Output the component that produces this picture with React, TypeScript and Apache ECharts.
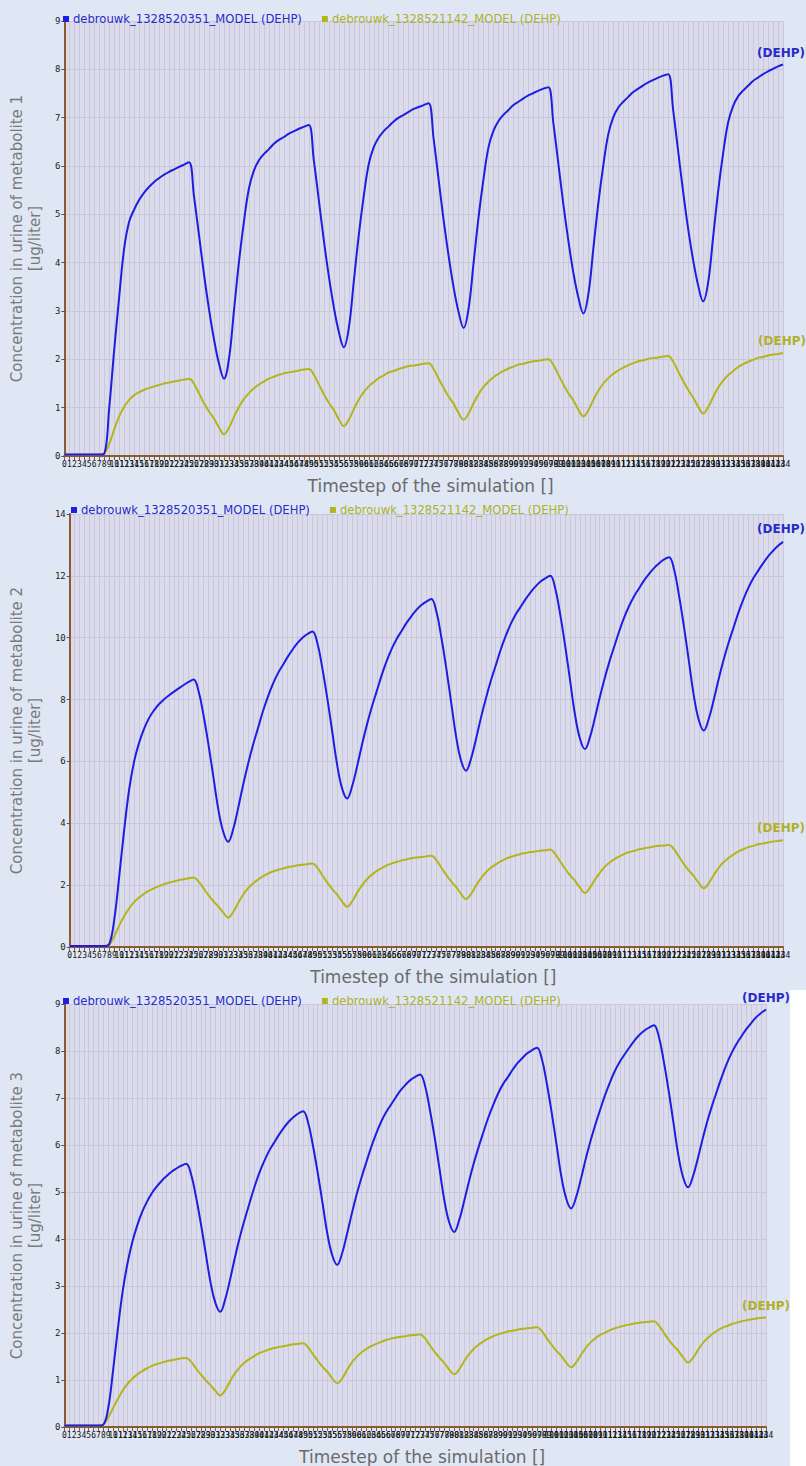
import React, { useEffect, useRef } from "react";
import * as echarts from "echarts";

const categories: string[] = Array.from({ length: 145 }, (_, i) => String(i));

const seriesNames = ["debrouwk_1328520351_MODEL (DEHP)", "debrouwk_1328521142_MODEL (DEHP)"];

// Panel 1 – metabolite 1
const blue1 = [
  0.03, 0.03, 0.03, 0.03, 0.03, 0.03, 0.03, 0.03,
  0.05, 1.0, 2.2, 3.3, 4.3, 4.85, 5.1, 5.3, 5.45, 5.57, 5.67, 5.75, 5.82, 5.88, 5.93, 5.98, 6.03, 6.08,
  5.36, 4.56, 3.75, 3.03, 2.41, 1.91, 1.6,
  2.02, 3.02, 4.02, 4.86, 5.54, 5.91, 6.12, 6.25, 6.35, 6.46, 6.54, 6.6, 6.67, 6.72, 6.77, 6.81, 6.85,
  6.11, 5.29, 4.46, 3.72, 3.08, 2.57, 2.25,
  2.65, 3.61, 4.57, 5.38, 6.04, 6.39, 6.59, 6.72, 6.82, 6.92, 7.0, 7.06, 7.12, 7.18, 7.22, 7.26, 7.3,
  6.56, 5.72, 4.88, 4.14, 3.49, 2.98, 2.65,
  3.05, 3.99, 4.94, 5.74, 6.39, 6.73, 6.93, 7.06, 7.16, 7.26, 7.33, 7.4, 7.46, 7.51, 7.56, 7.6, 7.63,
  6.88, 6.04, 5.2, 4.45, 3.79, 3.28, 2.95,
  3.35, 4.29, 5.23, 6.02, 6.66, 7.01, 7.21, 7.33, 7.43, 7.53, 7.6, 7.67, 7.73, 7.78, 7.83, 7.87, 7.9,
  7.15, 6.3, 5.46, 4.7, 4.05, 3.53, 3.2,
  3.59, 4.53, 5.47, 6.26, 6.9, 7.24, 7.44, 7.56, 7.66, 7.76, 7.83, 7.9, 7.96, 8.01, 8.06, 8.1,
];
const yellow1 = [
  0.03, 0.03, 0.03, 0.03, 0.03, 0.03, 0.03, 0.03,
  0.06, 0.25, 0.55, 0.82, 1.02, 1.16, 1.26, 1.32, 1.37, 1.41, 1.44, 1.47, 1.5, 1.52, 1.54, 1.56, 1.58, 1.6,
  1.49, 1.29, 1.09, 0.92, 0.77, 0.59, 0.45,
  0.59, 0.81, 1.02, 1.18, 1.3, 1.4, 1.48, 1.54, 1.6, 1.64, 1.68, 1.71, 1.73, 1.75, 1.77, 1.79, 1.8,
  1.68, 1.48, 1.28, 1.1, 0.95, 0.76, 0.62,
  0.75, 0.97, 1.17, 1.32, 1.44, 1.53, 1.61, 1.67, 1.73, 1.76, 1.8, 1.83, 1.86, 1.87, 1.89, 1.91, 1.92,
  1.8, 1.6, 1.41, 1.23, 1.08, 0.89, 0.75,
  0.88, 1.09, 1.28, 1.43, 1.54, 1.63, 1.7, 1.76, 1.81, 1.85, 1.89, 1.91, 1.94, 1.96, 1.97, 1.99, 2.0,
  1.88, 1.68, 1.48, 1.3, 1.15, 0.96, 0.82,
  0.95, 1.16, 1.35, 1.5, 1.61, 1.7, 1.77, 1.83, 1.88, 1.92, 1.96, 1.98, 2.01, 2.03, 2.04, 2.06, 2.07,
  1.95, 1.75, 1.55, 1.37, 1.21, 1.02, 0.88,
  1.01, 1.22, 1.41, 1.56, 1.67, 1.76, 1.84, 1.9, 1.95, 1.99, 2.03, 2.05, 2.08, 2.1, 2.11, 2.13,
];

// Panel 2 – metabolite 2
const blue2 = [
  0.03, 0.03, 0.03, 0.03, 0.03, 0.03, 0.03, 0.03,
  0.1, 0.9, 2.3, 3.8, 5.1, 6.0, 6.6, 7.05, 7.4, 7.65, 7.85, 8.0, 8.13, 8.25, 8.36, 8.47, 8.57, 8.65,
  8.28, 7.5, 6.55, 5.5, 4.45, 3.72, 3.4,
  3.81, 4.49, 5.24, 5.92, 6.53, 7.07, 7.62, 8.09, 8.5, 8.84, 9.11, 9.38, 9.62, 9.83, 10.0, 10.12, 10.2,
  9.82, 9.01, 8.04, 6.96, 5.88, 5.12, 4.8,
  5.19, 5.83, 6.54, 7.19, 7.77, 8.28, 8.8, 9.25, 9.64, 9.96, 10.22, 10.48, 10.7, 10.9, 11.06, 11.17, 11.25,
  10.86, 10.03, 9.03, 7.92, 6.81, 6.03, 5.7,
  6.08, 6.71, 7.4, 8.03, 8.6, 9.1, 9.61, 10.05, 10.43, 10.74, 10.99, 11.24, 11.46, 11.65, 11.81, 11.92, 12.0,
  11.61, 10.77, 9.76, 8.64, 7.52, 6.74, 6.4,
  6.77, 7.39, 8.07, 8.69, 9.25, 9.75, 10.24, 10.68, 11.05, 11.36, 11.61, 11.86, 12.07, 12.26, 12.41, 12.53, 12.6,
  12.21, 11.37, 10.36, 9.24, 8.12, 7.34, 7.0,
  7.37, 7.98, 8.66, 9.28, 9.83, 10.32, 10.81, 11.24, 11.61, 11.92, 12.17, 12.41, 12.63, 12.81, 12.97, 13.1,
];
const yellow2 = [
  0.03, 0.03, 0.03, 0.03, 0.03, 0.03, 0.03, 0.03,
  0.08, 0.35, 0.7, 1.0, 1.25, 1.45, 1.6, 1.72, 1.82, 1.9, 1.97, 2.03, 2.08, 2.12, 2.16, 2.19, 2.22, 2.25,
  2.12, 1.9, 1.68, 1.48, 1.31, 1.11, 0.95,
  1.13, 1.42, 1.69, 1.9, 2.05, 2.18, 2.28, 2.37, 2.44, 2.49, 2.54, 2.58, 2.61, 2.64, 2.66, 2.68, 2.7,
  2.56, 2.32, 2.08, 1.87, 1.69, 1.47, 1.3,
  1.47, 1.75, 1.99, 2.19, 2.34, 2.46, 2.55, 2.64, 2.7, 2.75, 2.8, 2.83, 2.87, 2.89, 2.91, 2.93, 2.95,
  2.81, 2.57, 2.33, 2.12, 1.94, 1.72, 1.55,
  1.71, 1.98, 2.22, 2.41, 2.56, 2.67, 2.77, 2.85, 2.91, 2.96, 3.01, 3.04, 3.07, 3.09, 3.11, 3.13, 3.15,
  3.01, 2.77, 2.53, 2.32, 2.14, 1.92, 1.75,
  1.91, 2.17, 2.4, 2.59, 2.73, 2.84, 2.93, 3.01, 3.07, 3.11, 3.16, 3.19, 3.22, 3.25, 3.27, 3.28, 3.3,
  3.16, 2.92, 2.68, 2.47, 2.29, 2.07, 1.9,
  2.06, 2.32, 2.56, 2.74, 2.88, 2.99, 3.09, 3.16, 3.23, 3.27, 3.32, 3.35, 3.38, 3.41, 3.43, 3.45,
];

// Panel 3 – metabolite 3
const blue3 = [
  0.03, 0.03, 0.03, 0.03, 0.03, 0.03, 0.03, 0.03,
  0.05, 0.4, 1.2, 2.1, 2.9, 3.5, 3.95, 4.3, 4.58, 4.8, 4.98, 5.12, 5.24, 5.34, 5.43, 5.5, 5.56, 5.6,
  5.38, 4.91, 4.34, 3.71, 3.08, 2.64, 2.45,
  2.71, 3.13, 3.6, 4.03, 4.41, 4.76, 5.1, 5.4, 5.65, 5.87, 6.04, 6.21, 6.36, 6.49, 6.59, 6.67, 6.72,
  6.49, 6.0, 5.41, 4.76, 4.1, 3.65, 3.45,
  3.69, 4.1, 4.54, 4.95, 5.31, 5.64, 5.96, 6.24, 6.49, 6.69, 6.85, 7.01, 7.16, 7.28, 7.38, 7.45, 7.5,
  7.27, 6.76, 6.16, 5.49, 4.82, 4.35, 4.15,
  4.39, 4.78, 5.21, 5.6, 5.95, 6.27, 6.58, 6.85, 7.09, 7.29, 7.44, 7.6, 7.74, 7.85, 7.95, 8.02, 8.07,
  7.83, 7.32, 6.7, 6.02, 5.33, 4.86, 4.65,
  4.88, 5.27, 5.7, 6.09, 6.44, 6.76, 7.07, 7.34, 7.58, 7.77, 7.93, 8.08, 8.22, 8.34, 8.43, 8.5, 8.55,
  8.31, 7.79, 7.17, 6.48, 5.79, 5.31, 5.1,
  5.33, 5.71, 6.13, 6.52, 6.86, 7.17, 7.47, 7.74, 7.97, 8.16, 8.32, 8.47, 8.6, 8.72, 8.81, 8.88,
];
const yellow3 = [
  0.03, 0.03, 0.03, 0.03, 0.03, 0.03, 0.03, 0.03,
  0.05, 0.2, 0.4, 0.6, 0.78, 0.92, 1.03, 1.12, 1.19, 1.25, 1.3, 1.34, 1.37, 1.4, 1.42, 1.44, 1.46, 1.47,
  1.39, 1.25, 1.12, 1.0, 0.89, 0.77, 0.67,
  0.78, 0.97, 1.14, 1.27, 1.37, 1.45, 1.51, 1.57, 1.61, 1.65, 1.68, 1.7, 1.72, 1.74, 1.76, 1.77, 1.78,
  1.7, 1.55, 1.41, 1.28, 1.17, 1.03, 0.93,
  1.03, 1.21, 1.37, 1.49, 1.59, 1.66, 1.72, 1.77, 1.81, 1.85, 1.88, 1.9, 1.92, 1.93, 1.95, 1.96, 1.97,
  1.89, 1.74, 1.6, 1.47, 1.36, 1.22, 1.12,
  1.22, 1.39, 1.54, 1.66, 1.75, 1.82, 1.88, 1.93, 1.97, 2.0, 2.03, 2.05, 2.07, 2.09, 2.1, 2.11, 2.12,
  2.04, 1.89, 1.75, 1.62, 1.51, 1.37, 1.27,
  1.37, 1.53, 1.68, 1.8, 1.89, 1.96, 2.01, 2.06, 2.1, 2.13, 2.16, 2.18, 2.2, 2.22, 2.23, 2.24, 2.25,
  2.16, 2.01, 1.86, 1.73, 1.62, 1.48, 1.37,
  1.47, 1.63, 1.78, 1.89, 1.98, 2.05, 2.11, 2.15, 2.19, 2.22, 2.25, 2.27, 2.29, 2.31, 2.32, 2.33,
];

const yMax = [9, 14, 9];
const yInterval = [1, 2, 1];
const yTitles = [
  "Concentration in urine of metabolite 1\n[ug/liter]",
  "Concentration in urine of metabolite 2\n[ug/liter]",
  "Concentration in urine of metabolite 3\n[ug/liter]",
];
const xTitle = "Timestep of the simulation []";
const endTag = "(DEHP)";

const BLUE = "#1e1ee0";
const OLIVE = "#b4b41e";
const BLUE_TXT = "#2a2ac8";
const OLIVE_TXT = "#b0b02a";
const BROWN = "#8a5a32";
const PAGE_BG = "#dfe7f5";
const PLOT_BG = "#dbdbeb";

const grids = [
  { left: 61, top: 21, width: 722, height: 435 },
  { left: 67, top: 514, width: 716, height: 433 },
  { left: 61, top: 1004, width: 705, height: 424 },
];
const legendPos = [
  { left: 58, top: 8 },
  { left: 66, top: 499 },
  { left: 58, top: 990 },
];
const tagPos = [
  { bx: 805, by: 53, yx: 806, yy: 341 },
  { bx: 805, by: 529, yx: 805, yy: 828 },
  { bx: 790, by: 998, yx: 790, yy: 1306 },
];

export default function App() {
  const ref = useRef<HTMLDivElement>(null);
  useEffect(() => {
    if (!ref.current) return;
    const chart = echarts.init(ref.current, undefined, { renderer: "svg" });
    const blues = [blue1, blue2, blue3];
    const yellows = [yellow1, yellow2, yellow3];
    const series: any[] = [];
    [0, 1, 2].forEach((i) => {
      series.push({
        name: seriesNames[0],
        type: "line",
        xAxisIndex: i,
        yAxisIndex: i,
        data: blues[i],
        smooth: 0.4,
        showSymbol: false,
        lineStyle: { color: BLUE, width: 2 },
        itemStyle: { color: BLUE },
        z: 3,
      });
      series.push({
        name: seriesNames[1],
        type: "line",
        xAxisIndex: i,
        yAxisIndex: i,
        data: yellows[i],
        smooth: 0.4,
        showSymbol: false,
        lineStyle: { color: OLIVE, width: 2 },
        itemStyle: { color: OLIVE },
        z: 2,
      });
    });
    const graphic: any[] = [
      { type: "rect", shape: { x: 790, y: 990, width: 16, height: 476 }, style: { fill: "#ffffff" }, z: 0 },
    ];
    tagPos.forEach((p) => {
      graphic.push({
        type: "text",
        style: { text: endTag, x: p.bx, y: p.by, align: "right", verticalAlign: "middle", fill: BLUE_TXT, font: "bold 12px 'DejaVu Sans'" },
        z: 10,
      });
      graphic.push({
        type: "text",
        style: { text: endTag, x: p.yx, y: p.yy, align: "right", verticalAlign: "middle", fill: OLIVE_TXT, font: "bold 12px 'DejaVu Sans'" },
        z: 10,
      });
    });
    const option: any = {
      animation: false,
      backgroundColor: PAGE_BG,
      textStyle: { fontFamily: "DejaVu Sans" },
      legend: legendPos.map((p) => ({
        ...p,
        orient: "horizontal",
        icon: "rect",
        itemWidth: 6,
        itemHeight: 6,
        itemGap: 20,
        selectedMode: false,
        textStyle: { fontSize: 11.6, fontFamily: "DejaVu Sans", padding: [0, 0, 0, -1] },
        data: [
          { name: seriesNames[0], textStyle: { color: BLUE_TXT } },
          { name: seriesNames[1], textStyle: { color: OLIVE_TXT } },
        ],
      })),
      grid: grids.map((g) => ({ ...g, show: true, backgroundColor: PLOT_BG, borderWidth: 0, containLabel: false })),
      xAxis: [0, 1, 2].map((i) => ({
        gridIndex: i,
        type: "category",
        data: categories,
        boundaryGap: false,
        axisLine: { lineStyle: { color: BROWN, width: 2 } },
        axisTick: { interval: 0, length: 4, lineStyle: { color: BROWN, width: 1 } },
        axisLabel: { interval: 0, fontSize: 8, color: "#111", margin: 4, fontFamily: "DejaVu Sans Mono" },
        splitLine: { show: true, interval: 0, lineStyle: { color: "#c8c8de", width: 1 } },
        name: xTitle,
        nameLocation: "middle",
        nameGap: 21,
        nameTextStyle: { fontSize: 17, color: "#6a6a6a", padding: [0, 0, 0, 14] },
      })),
      yAxis: [0, 1, 2].map((i) => ({
        gridIndex: i,
        type: "value",
        min: 0,
        max: yMax[i],
        interval: yInterval[i],
        axisLine: { show: true, lineStyle: { color: BROWN, width: 2 } },
        axisTick: { show: true, length: 3, lineStyle: { color: "#555" } },
        axisLabel: { fontSize: 9, color: "#222", margin: 4, fontFamily: "DejaVu Sans Mono" },
        splitLine: { show: true, lineStyle: { color: "#c8c8d8", width: 1 } },
        name: yTitles[i],
        nameLocation: "middle",
        nameGap: 17,
        nameRotate: 90,
        nameTextStyle: { fontSize: 15, color: "#7a7a7a", lineHeight: 18, align: "center" },
      })),
      series,
      graphic,
    };
    chart.setOption(option);
    return () => chart.dispose();
  }, []);
  return <div ref={ref} style={{ position: "absolute", left: 0, top: 0, width: 806, height: 1466 }} />;
}
